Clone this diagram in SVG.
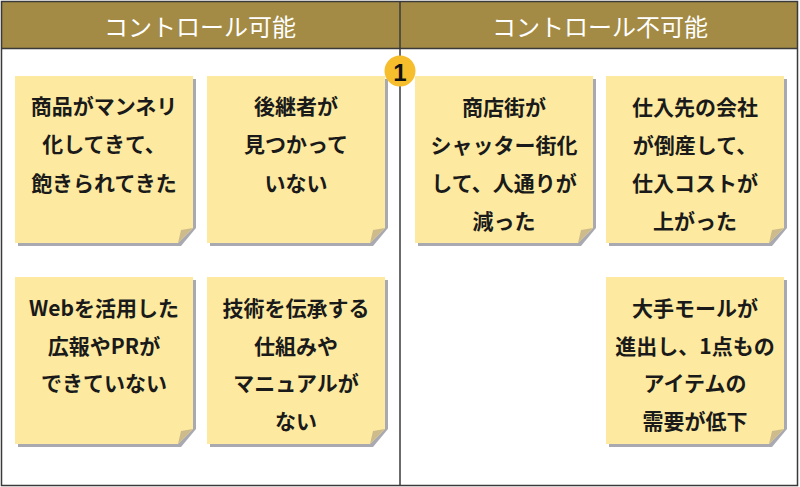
<svg xmlns="http://www.w3.org/2000/svg" width="800" height="487" viewBox="0 0 800 487">
<defs>
<style>
.note{fill:#FDEAA0}
.shadow{fill:#A9A9B2}
.fold{fill:#CDBB8B}
.t{font-family:"Noto Sans CJK JP","Noto Sans",sans-serif;font-weight:bold;font-size:21px;fill:#1a1a1a;text-anchor:middle;dominant-baseline:central}
.h{font-family:"Noto Sans CJK JP","Noto Sans",sans-serif;font-size:24px;fill:#ffffff;text-anchor:middle;dominant-baseline:central}
.line{stroke:#3a3a3a;stroke-width:1.5;fill:none}
</style>
<g id="sticky">
<path class="shadow" d="M3,3 H181 V152 L166,170 H3 Z"/>
<path class="note" d="M0,0 H178 V152 L163,167 H0 Z"/>
<path class="fold" d="M178,152 L163,167 L166,154 Z"/>
</g>
</defs>
<rect x="0" y="0" width="800" height="487" fill="#ffffff"/>
<g id="header">
<rect x="1.5" y="1.5" width="796" height="47" fill="#A38B45"/>
<text class="h" x="200" y="25">コントロール可能</text>
<text class="h" x="600" y="25">コントロール不可能</text>
</g>
<g id="frame">
<rect class="line" x="1.5" y="1.5" width="796" height="484"/>
<line class="line" x1="1.5" y1="48.5" x2="797.5" y2="48.5"/>
<line class="line" x1="400" y1="1.5" x2="400" y2="485.5"/>
</g>
<g id="note1">
<use href="#sticky" x="15" y="76"/>
<text class="t" x="104" y="105">商品がマンネリ</text>
<text class="t" x="104" y="143">化してきて、</text>
<text class="t" x="104" y="182">飽きられてきた</text>
</g>
<g id="note2">
<use href="#sticky" x="207" y="76"/>
<text class="t" x="296" y="105">後継者が</text>
<text class="t" x="296" y="143">見つかって</text>
<text class="t" x="296" y="182">いない</text>
</g>
<g id="note3">
<use href="#sticky" x="415" y="76"/>
<text class="t" x="504" y="106">商店街が</text>
<text class="t" x="504" y="144">シャッター街化</text>
<text class="t" x="504" y="182">して、人通りが</text>
<text class="t" x="504" y="220">減った</text>
</g>
<g id="note4">
<use href="#sticky" x="606" y="76"/>
<text class="t" x="695" y="106">仕入先の会社</text>
<text class="t" x="695" y="144">が倒産して、</text>
<text class="t" x="695" y="182">仕入コストが</text>
<text class="t" x="695" y="220">上がった</text>
</g>
<g id="note5">
<use href="#sticky" x="15" y="277"/>
<text class="t" x="104" y="307">Webを活用した</text>
<text class="t" x="104" y="345">広報やPRが</text>
<text class="t" x="104" y="382">できていない</text>
</g>
<g id="note6">
<use href="#sticky" x="207" y="277"/>
<text class="t" x="296" y="307">技術を伝承する</text>
<text class="t" x="296" y="345">仕組みや</text>
<text class="t" x="296" y="382">マニュアルが</text>
<text class="t" x="296" y="420">ない</text>
</g>
<g id="note7">
<use href="#sticky" x="606" y="277"/>
<text class="t" x="695" y="307">大手モールが</text>
<text class="t" x="695" y="345">進出し、1点もの</text>
<text class="t" x="695" y="382">アイテムの</text>
<text class="t" x="695" y="420">需要が低下</text>
</g>
<g id="badge">
<circle cx="400" cy="71" r="15.5" fill="#F6BE2C"/>
<text x="400" y="72" font-family="Liberation Sans, Arial, sans-serif" font-weight="bold" font-size="24" fill="#111" text-anchor="middle" dominant-baseline="central">1</text>
</g>
</svg>
